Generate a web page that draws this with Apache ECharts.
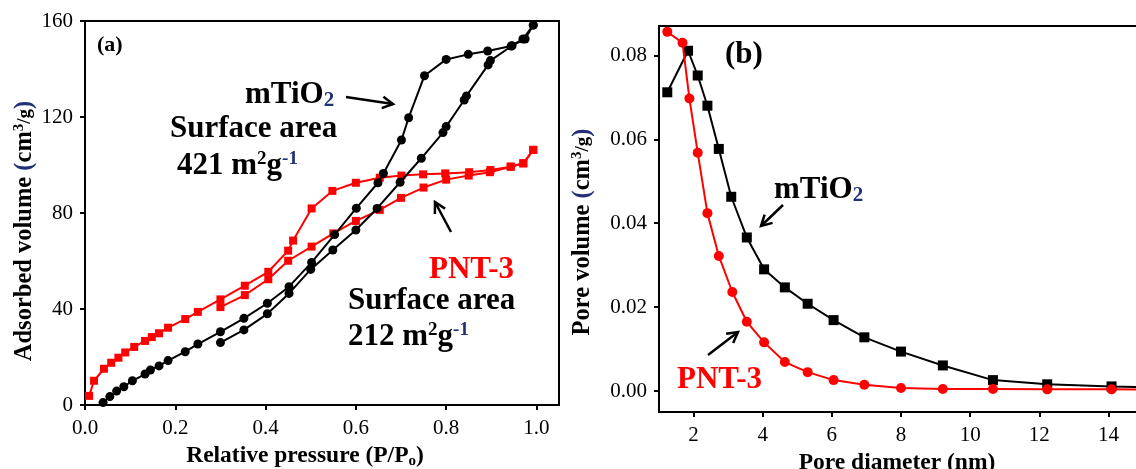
<!DOCTYPE html>
<html><head><meta charset="utf-8">
<script src="https://cdn.jsdelivr.net/npm/echarts@6/dist/echarts.min.js"></script>
<style>html,body{margin:0;padding:0;background:#fff}#c{width:1136px;height:469px}</style>
</head><body><div id="c"></div>
<script>
// ---------- Panel (a): N2 isotherms ----------
const mtiUpX = [0.040,0.055,0.070,0.086,0.105,0.133,0.145,0.164,0.184,0.222,0.250,0.300,0.352,0.404,0.452,0.502,0.553,0.601,0.649,0.661,0.701,0.717,0.752,0.800,0.849,0.892,0.944,0.970,0.993];
const mtiUpY = [1.0,3.5,5.8,7.6,10.1,12.9,14.6,16.3,18.5,22.2,25.4,30.5,36.1,42.4,49.3,59.4,71.0,82.0,92.6,96.5,110.4,119.7,137.2,144.0,146.1,147.5,149.6,152.5,158.3];
const mtiLoX = [0.300,0.352,0.404,0.452,0.500,0.549,0.600,0.647,0.698,0.745,0.793,0.800,0.840,0.845,0.893,0.898,0.946,0.975,0.993];
const mtiLoY = [26.0,31.3,38.0,46.5,56.5,64.6,72.9,81.9,92.8,102.8,113.5,116.0,127.1,128.8,141.7,143.5,149.7,152.5,158.3];
const pntUpX = [0.009,0.020,0.042,0.058,0.074,0.089,0.109,0.133,0.148,0.164,0.184,0.222,0.250,0.300,0.354,0.406,0.450,0.461,0.502,0.548,0.600,0.653,0.701,0.749,0.798,0.851,0.898,0.943,0.971,0.993];
const pntUpY = [3.8,10.1,15.1,17.6,19.7,21.9,24.2,26.7,28.3,29.9,32.2,35.8,38.8,44.0,49.7,55.5,64.3,68.5,81.9,89.2,92.6,94.7,95.6,96.1,96.5,97.0,97.9,99.3,100.7,106.3];
const pntLoX = [0.300,0.354,0.406,0.450,0.502,0.550,0.600,0.653,0.700,0.750,0.800,0.850,0.897,0.943,0.971,0.993];
const pntLoY = [40.8,45.8,52.4,60.1,66.0,71.5,76.7,81.3,86.3,90.6,93.9,95.6,97.0,99.3,100.7,106.3];
const ticksAX = [0.0,0.2,0.4,0.6,0.8,1.0];
const ticksAY = [0,40,80,120,160];

// ---------- Panel (b): pore size distribution ----------
const poreMtiX = [1.24,1.84,2.12,2.40,2.73,3.09,3.54,4.04,4.64,5.30,6.05,6.94,8.00,9.21,10.66,12.23,14.09,16.3];
const poreMtiY = [0.0712,0.0811,0.0752,0.0680,0.0577,0.0463,0.0366,0.0290,0.0247,0.0208,0.0169,0.0128,0.0094,0.0061,0.0026,0.0016,0.0011,0.0007];
const porePntX = [1.24,1.68,1.88,2.12,2.40,2.73,3.12,3.54,4.04,4.64,5.30,6.05,6.94,8.00,9.21,10.66,12.23,14.09,16.3];
const porePntY = [0.0856,0.0830,0.0697,0.0568,0.0424,0.0322,0.0236,0.0165,0.0116,0.0069,0.0045,0.0026,0.0015,0.0007,0.0005,0.0005,0.0004,0.0004,0.0003];
const ticksBX = [2,4,6,8,10,12,14];
const ticksBY = [0,0.02,0.04,0.06,0.08];

const FF = '"Liberation Serif","Times New Roman",serif';
const NAVY = '#22307a';
const zip = (xs, ys) => xs.map((x, i) => [x, ys[i]]);

function line(name, xs, ys, color, symbol, size, xi, z) {
  return {
    name, type: 'line', xAxisIndex: xi, yAxisIndex: xi, data: zip(xs, ys),
    symbol, symbolSize: size, showSymbol: true, z: z,
    lineStyle: {color, width: 2}, itemStyle: {color},
    clip: true, animation: false, silent: true
  };
}

function axisCommon() {
  return {
    axisLine: {show: true, onZero: false, lineStyle: {color: '#000', width: 2}},
    splitLine: {show: false}
  };
}
function tick(vals) {
  return {show: true, inside: false, length: 5, lineStyle: {color: '#000', width: 2}, customValues: vals};
}
function rs(size, extra) {
  return Object.assign({fontFamily: FF, fontWeight: 'bold', fontSize: size, color: '#000'}, extra || {});
}
function richName(size) {
  return {
    n: rs(size),
    p: rs(size, {color: NAVY}),
    sup: rs(Math.round(size * 0.62), {padding: [0, 0, 11, 0]}),
    sub: rs(Math.round(size * 0.62), {padding: [11, 0, 0, 0]}),
    sm: rs(Math.round(size * 0.78))
  };
}

function arrow(x1, y1, x2, y2) {
  const a = Math.atan2(y2 - y1, x2 - x1), L = 12, w = 0.5;
  return [
    {type: 'line', shape: {x1, y1, x2, y2}, style: {stroke: '#000', lineWidth: 2.5}},
    {type: 'polyline', shape: {points: [
      [x2 - L * Math.cos(a - w), y2 - L * Math.sin(a - w)], [x2, y2],
      [x2 - L * Math.cos(a + w), y2 - L * Math.sin(a + w)]]},
      style: {stroke: '#000', lineWidth: 2.5, fill: null}}
  ];
}
function gs(size, extra) {
  return Object.assign({fontFamily: FF, fontWeight: 'bold', fontSize: size, fill: '#000'}, extra || {});
}
function label(x, y, text, size, color) {
  return {
    type: 'text', x, y, z: 100,
    style: Object.assign(gs(size, {fill: color || '#000'}), {
      text, align: 'left', verticalAlign: 'middle',
      rich: {
        n: gs(size, {fill: color || '#000'}),
        sub: gs(Math.round(size * 0.68), {fill: NAVY, padding: [12, 0, 0, 0]}),
        sup: gs(Math.round(size * 0.62), {padding: [0, 0, 14, 0]}),
        supb: gs(Math.round(size * 0.62), {fill: NAVY, padding: [0, 0, 14, 0]})
      }
    })
  };
}
function tickLabel(vals, fmt, margin) {
  return {customValues: vals, formatter: fmt, fontFamily: FF, fontSize: 21, color: '#000', margin};
}

const chart = echarts.init(document.getElementById('c'), null, {renderer: 'canvas'});
const option = {
  backgroundColor: '#fff',
  animation: false,
  grid: [
    {left: 85, top: 21, width: 474, height: 384, containLabel: false, outerBoundsMode: 'none',
     show: true, borderColor: '#000', borderWidth: 2, backgroundColor: 'transparent'},
    {left: 659, top: 26, width: 484, height: 386, containLabel: false, outerBoundsMode: 'none',
     show: true, borderColor: '#000', borderWidth: 2, backgroundColor: 'transparent'}
  ],
  xAxis: [
    Object.assign(axisCommon(), {
      gridIndex: 0, type: 'value', min: 0, max: 1.05,
      axisTick: tick(ticksAX),
      axisLabel: tickLabel(ticksAX, v => v.toFixed(1), 13),
      name: '{n|Relative pressure (P/P}{sub|o}{n|)}', nameLocation: 'middle', nameGap: 36,
      nameTextStyle: {rich: richName(23.5), padding: [0, 34, 0, 0]}
    }),
    Object.assign(axisCommon(), {
      gridIndex: 1, type: 'value', min: 1, max: 15,
      axisTick: tick(ticksBX),
      axisLabel: tickLabel(ticksBX, v => String(v), 13),
      name: '{n|Pore diameter (nm)}', nameLocation: 'middle', nameGap: 36,
      nameTextStyle: {rich: richName(23.5), padding: [0, 8, 0, 0]}
    })
  ],
  yAxis: [
    Object.assign(axisCommon(), {
      gridIndex: 0, type: 'value', min: 0, max: 160,
      axisTick: tick(ticksAY),
      axisLabel: tickLabel(ticksAY, v => String(v), 12),
      name: '{n|Adsorbed volume }{p|(}{n|cm}{sup|3}{sm|/g}{p|)}', nameLocation: 'middle', nameGap: 46,
      nameTextStyle: {rich: richName(24.5), padding: [0, 36, 0, 0]}
    }),
    Object.assign(axisCommon(), {
      gridIndex: 1, type: 'value', min: -0.005, max: 0.087,
      axisTick: tick(ticksBY),
      axisLabel: tickLabel(ticksBY, v => v.toFixed(2), 12),
      name: '{n|Pore volume }{p|(}{n|cm}{sup|3}{sm|/g}{p|)}', nameLocation: 'middle', nameGap: 63,
      nameTextStyle: {rich: richName(24.5), padding: [0, 26, 0, 0]}
    })
  ],
  series: [
    line('PNT-3 upper', pntUpX, pntUpY, '#ff0000', 'rect', 8, 0, 2),
    line('PNT-3 lower', pntLoX, pntLoY, '#ff0000', 'rect', 8, 0, 2),
    line('mTiO2 upper', mtiUpX, mtiUpY, '#000000', 'circle', 9, 0, 3),
    line('mTiO2 lower', mtiLoX, mtiLoY, '#000000', 'circle', 9, 0, 3),
    line('mTiO2 PSD', poreMtiX, poreMtiY, '#000000', 'rect', 10, 1, 2),
    line('PNT-3 PSD', porePntX, porePntY, '#ff0000', 'circle', 10, 1, 3)
  ],
  graphic: [
    label(97, 45, '(a)', 22),
    label(245, 95, '{n|mTiO}{sub|2}', 31),
    label(170, 129, 'Surface area', 31),
    label(177, 166, '{n|421 m}{sup|2}{n|g}{supb|-1}', 31),
    label(429, 270, 'PNT-3', 31, '#ff0000'),
    label(348, 301, 'Surface area', 31),
    label(348, 337, '{n|212 m}{sup|2}{n|g}{supb|-1}', 31),
    label(725, 55, '(b)', 31),
    label(774, 190, '{n|mTiO}{sub|2}', 31),
    label(677, 380, 'PNT-3', 31, '#ff0000'),
    ...arrow(346, 97, 393, 104),
    ...arrow(451, 232, 435, 202),
    ...arrow(783, 205, 761, 226),
    ...arrow(708, 355, 738, 332)
  ]
};
chart.setOption(option);
</script>
</body></html>
